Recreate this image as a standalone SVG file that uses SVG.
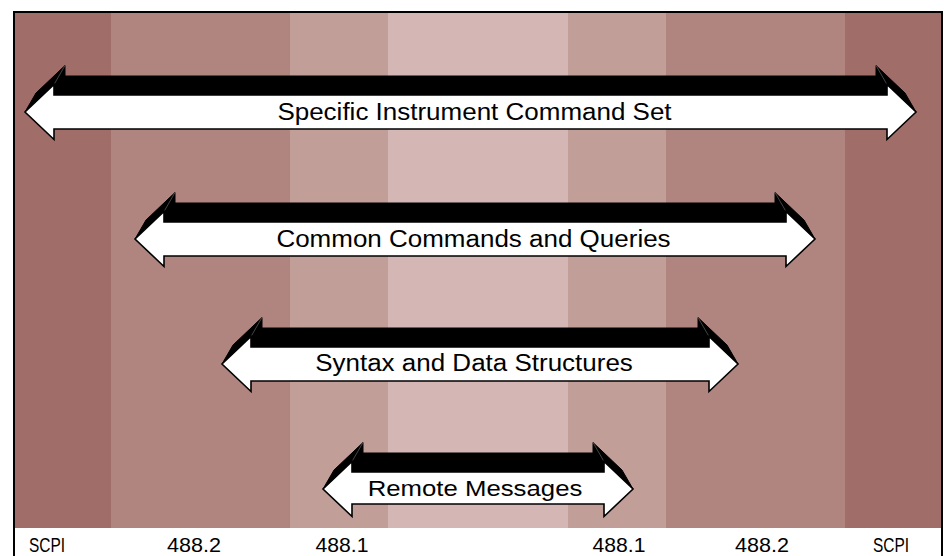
<svg xmlns="http://www.w3.org/2000/svg" width="944" height="556" viewBox="0 0 944 556">
<style>
.lbl{font-family:"Liberation Sans",Arial,sans-serif;font-size:23px;fill:#000;text-anchor:middle}
.bot{font-family:"Liberation Sans",Arial,sans-serif;font-size:20px;fill:#000;text-anchor:middle}
.front{fill:#fff;stroke:#000;stroke-width:1.6;stroke-linejoin:miter}
.back{fill:#000;stroke:#000;stroke-width:1}
.edge{stroke:#555;stroke-width:0.8;fill:none}
</style>
<rect width="944" height="556" fill="#fff"/>
<g id="bands">
<rect x="14" y="12" width="97" height="516" fill="#a06d69"/>
<rect x="111" y="12" width="179" height="516" fill="#b0857f"/>
<rect x="290" y="12" width="98" height="516" fill="#c29e99"/>
<rect x="388" y="12" width="180" height="516" fill="#d4b7b4"/>
<rect x="568" y="12" width="98" height="516" fill="#c29e99"/>
<rect x="666" y="12" width="179" height="516" fill="#b0857f"/>
<rect x="845" y="12" width="97" height="516" fill="#a06d69"/>
</g>
<path d="M14,556 V12 H942 V556" fill="none" stroke="#000" stroke-width="2"/>
<g id="arrow1">
<polygon class="back" points="25,112 36,93 65,65.5 65,76 876,76 876,65.5 905,93 916,112 887,112 54,112"/>
<line class="edge" x1="54" y1="84.5" x2="65" y2="65.5"/>
<line class="edge" x1="887" y1="84.5" x2="876" y2="65.5"/>
<polygon class="front" points="25,112 54,84.5 54,95 887,95 887,84.5 916,112 887,139.5 887,129 54,129 54,139.5"/>
<text class="lbl" transform="translate(474.5,120) scale(1.13,1)">Specific Instrument Command Set</text>
</g>
<g id="arrow2">
<polygon class="back" points="135,239 146,220 175,192.5 175,203 775,203 775,192.5 804,220 815,239 786,239 164,239"/>
<line class="edge" x1="164" y1="211.5" x2="175" y2="192.5"/>
<line class="edge" x1="786" y1="211.5" x2="775" y2="192.5"/>
<polygon class="front" points="135,239 164,211.5 164,222 786,222 786,211.5 815,239 786,266.5 786,256 164,256 164,266.5"/>
<text class="lbl" transform="translate(473.5,247) scale(1.13,1)">Common Commands and Queries</text>
</g>
<g id="arrow3">
<polygon class="back" points="222,364 233,345 262,317.5 262,328 698,328 698,317.5 727,345 738,364 709,364 251,364"/>
<line class="edge" x1="251" y1="336.5" x2="262" y2="317.5"/>
<line class="edge" x1="709" y1="336.5" x2="698" y2="317.5"/>
<polygon class="front" points="222,364 251,336.5 251,347 709,347 709,336.5 738,364 709,391.5 709,381 251,381 251,391.5"/>
<text class="lbl" transform="translate(474,371) scale(1.13,1)">Syntax and Data Structures</text>
</g>
<g id="arrow4">
<polygon class="back" points="323,489 334,470 363,442.5 363,453 593,453 593,442.5 622,470 633,489 604,489 352,489"/>
<line class="edge" x1="352" y1="461.5" x2="363" y2="442.5"/>
<line class="edge" x1="604" y1="461.5" x2="593" y2="442.5"/>
<polygon class="front" points="323,489 352,461.5 352,472 604,472 604,461.5 633,489 604,516.5 604,504 352,504 352,516.5"/>
<text class="lbl" transform="translate(475,496) scale(1.12,1)">Remote Messages</text>
</g>
<g id="labels">
<text class="bot" x="47" y="552" textLength="36" lengthAdjust="spacingAndGlyphs">SCPI</text>
<text class="bot" x="194" y="552" textLength="54" lengthAdjust="spacingAndGlyphs">488.2</text>
<text class="bot" x="342" y="552" textLength="53" lengthAdjust="spacingAndGlyphs">488.1</text>
<text class="bot" x="619" y="552" textLength="53" lengthAdjust="spacingAndGlyphs">488.1</text>
<text class="bot" x="762" y="552" textLength="54" lengthAdjust="spacingAndGlyphs">488.2</text>
<text class="bot" x="891" y="552" textLength="36" lengthAdjust="spacingAndGlyphs">SCPI</text>
</g>
</svg>
